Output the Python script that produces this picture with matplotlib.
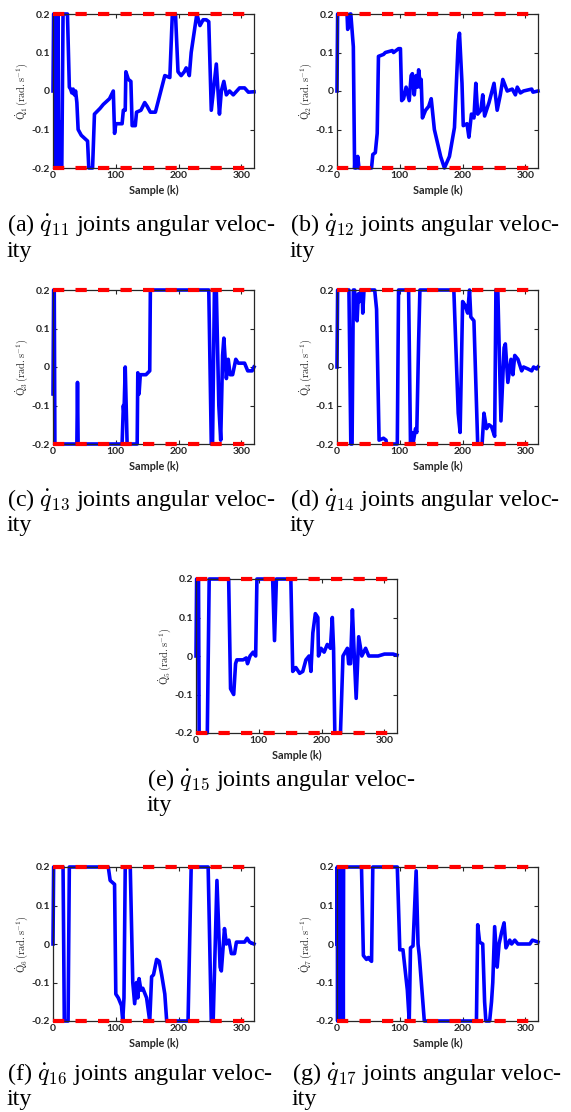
import numpy as np
import matplotlib.pyplot as plt

plt.rcParams['mathtext.fontset'] = 'cm'

# sample index / angular velocity breakpoints
k11 = [0, 1, 3, 4, 6, 7, 8, 9, 11, 12, 13, 14, 16, 23, 26, 28, 30, 32, 34, 36, 38, 40, 45, 55, 57, 63, 66, 75, 80, 90,
       96, 98, 100, 110, 112, 115, 116, 120, 124, 126, 131, 133, 140, 146, 150, 155, 163, 178, 186, 190, 195, 199, 204,
       209, 212, 215, 217, 220, 229, 234, 239, 244, 248, 252, 260, 265, 268, 272, 276, 281, 287, 297, 305, 311, 320]
v11 = [0, 0.2, 0.2, -0.2, -0.2, 0.2, 0.2, -0.2, -0.2, -0.08, -0.2, -0.2, 0.2, 0.2, 0.01, 0.005, -0.005, 0.005, -0.01, 0.0,
       -0.03, -0.1, -0.115, -0.13, -0.2, -0.2, -0.06, -0.045, -0.035, -0.02, 0.0, -0.11, -0.085, -0.085, -0.05, -0.05,
       0.05, 0.03, 0.025, -0.09, -0.09, -0.055, -0.05, -0.03, -0.04, -0.055, -0.055, 0.04, 0.035, 0.2, 0.2, 0.05, 0.04,
       0.05, 0.06, 0.05, 0.04, 0.1, 0.2, 0.17, 0.185, 0.185, 0.18, -0.05, 0.07, -0.06, 0.0, 0.025, -0.01, 0.0, -0.01,
       0.008, 0.008, -0.003, -0.002]

k12 = [0, 1, 16, 17, 19, 21, 22, 26, 28, 29, 31, 33, 35, 55, 57, 61, 64, 66, 74, 77, 88, 90, 98, 101, 103, 106, 110, 115,
       118, 120, 123, 126, 128, 130, 133, 134, 136, 141, 146, 150, 155, 165, 171, 179, 187, 193, 195, 199, 201, 207, 210,
       214, 218, 221, 224, 229, 232, 235, 242, 250, 255, 260, 264, 271, 279, 284, 287, 292, 297, 310, 312, 320]
v12 = [0, 0.2, 0.2, 0.16, 0.17, 0.2, 0.2, 0.115, -0.2, -0.175, -0.2, -0.17, -0.2, -0.2, -0.165, -0.16, -0.11, 0.09, 0.095,
       0.1, 0.105, 0.1, 0.11, 0.11, -0.025, -0.02, 0.01, -0.025, 0.04, 0.045, -0.01, 0.04, 0.01, 0.055, 0.01, 0.03, -0.07,
       -0.05, -0.04, -0.02, -0.1, -0.17, -0.2, -0.17, -0.095, 0.13, 0.15, 0.02, -0.09, -0.085, -0.12, -0.06, -0.07, 0.02,
       -0.06, -0.05, -0.01, -0.065, -0.03, 0.02, -0.05, -0.01, 0.03, 0.0, 0.005, -0.01, 0.01, -0.005, 0.0, 0.005,
       -0.003, 0.0]

k13 = [0, 1, 2, 3, 38, 39, 40, 110, 112, 113, 115, 118, 134, 135, 137, 139, 148, 154, 155, 248, 252, 254, 257, 260, 264,
       267, 270, 272, 276, 279, 282, 286, 291, 295, 305, 310, 317, 320]
v13 = [-0.07, 0.2, 0.2, -0.2, -0.2, -0.04, -0.2, -0.2, -0.1, -0.12, 0.0, -0.2, -0.2, -0.015, -0.07, -0.02, -0.02, -0.01,
       0.2, 0.2, -0.2, -0.2, 0.2, 0.2, -0.1, -0.19, 0.03, 0.075, -0.03, 0.02, -0.02, -0.02, 0.02, 0.01, 0.01, -0.01,
       -0.01, 0.0]

k14 = [0, 1, 19, 22, 24, 26, 28, 30, 32, 34, 36, 38, 40, 41, 43, 60, 63, 67, 74, 78, 79, 96, 98, 114, 117, 119, 121, 125,
       127, 130, 132, 186, 193, 196, 200, 204, 208, 211, 213, 218, 224, 231, 234, 238, 242, 246, 251, 253, 256, 261, 266,
       268, 272, 277, 280, 283, 288, 294, 297, 304, 310, 313, 318, 320]
v14 = [0, 0.2, 0.2, -0.2, -0.2, 0.2, 0.2, 0.13, 0.12, 0.19, 0.17, 0.2, 0.2, 0.14, 0.2, 0.2, 0.15, -0.19, -0.185, -0.19,
       -0.2, -0.2, 0.2, 0.2, -0.2, -0.17, -0.2, -0.16, -0.17, 0.07, 0.2, 0.2, -0.12, -0.17, 0.17, 0.16, 0.14, 0.2, 0.13,
       0.12, -0.2, -0.2, -0.12, -0.16, -0.15, -0.155, -0.18, 0.2, 0.2, -0.14, 0.05, 0.06, -0.04, 0.02, -0.02, 0.03, 0.02,
       -0.01, 0.0, -0.005, -0.01, 0.0, -0.005, 0.0]

k15 = [0, 1, 4, 5, 18, 21, 52, 55, 60, 63, 65, 75, 80, 82, 86, 91, 95, 97, 122, 125, 128, 151, 154, 159, 165, 170, 175,
       180, 183, 186, 190, 194, 195, 199, 204, 209, 214, 217, 219, 221, 230, 234, 241, 243, 246, 249, 252, 255, 259, 264,
       270, 275, 290, 300, 314, 320]
v15 = [0, 0.2, 0.2, -0.2, -0.2, 0.2, 0.2, -0.085, -0.1, -0.02, -0.01, -0.01, -0.005, -0.02, 0.0, 0.01, 0.0, 0.2, 0.2,
       0.04, 0.2, 0.2, -0.04, -0.03, -0.045, -0.04, -0.01, 0.0, -0.04, 0.06, 0.11, 0.1, 0.0, 0.02, 0.01, 0.03, 0.02, 0.1,
       0.02, -0.2, -0.2, 0.0, 0.02, -0.02, -0.02, 0.12, 0.0, -0.11, 0.05, 0.0, 0.02, 0.0, 0.0, 0.005, 0.005, 0.002]

k16 = [0, 1, 16, 18, 24, 26, 88, 91, 98, 100, 104, 109, 111, 113, 115, 123, 127, 130, 133, 135, 137, 140, 143, 149, 154,
       157, 160, 165, 169, 173, 178, 181, 215, 220, 247, 252, 255, 261, 266, 268, 273, 276, 280, 284, 289, 292, 305, 309,
       313, 320]
v16 = [0, 0.2, 0.2, -0.2, -0.2, 0.2, 0.2, 0.165, 0.155, -0.13, -0.14, -0.16, -0.2, -0.14, 0.2, 0.2, -0.1, -0.155, -0.1,
       -0.14, -0.09, -0.12, -0.115, -0.14, -0.2, -0.085, -0.08, -0.04, -0.045, -0.08, -0.13, -0.2, -0.2, 0.2, 0.2, -0.2,
       -0.2, 0.165, -0.06, -0.07, 0.04, 0.0, 0.01, -0.025, -0.025, 0.005, 0.005, 0.015, 0.005, 0.0]

k17 = [0, 0.5, 1, 1.5, 2, 2.5, 3, 3.5, 4, 4.5, 5, 5.5, 6, 6.5, 7, 7.5, 8, 8.5, 9, 9.5, 10, 10.5, 11, 39, 42, 47, 50, 52, 55,
       57, 96, 100, 105, 112, 115, 117, 121, 126, 129, 131, 139, 222, 224, 227, 232, 235, 237, 243, 246, 248, 251, 255,
       258, 262, 266, 269, 275, 278, 283, 288, 307, 311, 315, 320]
v17 = [0, 0.2, -0.2, 0.2, -0.2, 0.2, -0.2, 0.2, -0.2, 0.2, -0.2, 0.2, -0.2, 0.2, -0.2, 0.2, -0.2, 0.2, -0.2, 0.2, -0.2,
       0.2, 0.2, 0.2, -0.03, -0.04, -0.035, -0.04, -0.045, 0.2, 0.2, -0.015, -0.015, -0.12, -0.2, -0.01, -0.005, 0.19,
       0.0, -0.03, -0.2, -0.2, 0.05, 0.005, 0.0, -0.15, -0.2, -0.2, -0.15, -0.1, 0.045, -0.06, 0.0, 0.03, 0.055, -0.01,
       0.01, 0.0, 0.01, 0.0, 0.0, 0.01, 0.008, 0.005]

v_lim = 0.2
x_ticks = [0, 100, 200, 300]
y_ticks = [-0.2, -0.1, 0, 0.1, 0.2]
y_tick_labels = ['-0.2', '-0.1', '0', '0.1', '0.2']

panels = [
    # k, v, joint, sub, tag, left px, top px, caption x px, caption y px
    (k11, v11, '1', '11', 'a', 53, 14, 7, 225),
    (k12, v12, '2', '12', 'b', 337, 14, 290, 225),
    (k13, v13, '3', '13', 'c', 53, 290, 7, 500),
    (k14, v14, '4', '14', 'd', 337, 290, 290, 500),
    (k15, v15, '5', '15', 'e', 196, 579, 147, 780),
    (k16, v16, '6', '16', 'f', 53, 867, 7, 1074),
    (k17, v17, '7', '17', 'g', 337, 867, 292, 1074),
]

W, H = 571, 1112
fig = plt.figure(figsize=(W / 100, H / 100), dpi=100)

for k, v, j, sub, tag, lx, ty, cx, cy in panels:
    ax = fig.add_axes([lx / W, 1 - (ty + 154) / H, 201 / W, 154 / H])
    ax.plot(k, v, color='#0000ff', lw=2.6, zorder=2, clip_on=False)
    for lim in (v_lim, -v_lim):
        ax.axhline(lim, color='#ff0000', lw=3.0, dashes=(2.7, 2.7), zorder=3, clip_on=False)
    ax.set_xlim(0, 320)
    ax.set_ylim(-0.2, 0.2)
    ax.set_xticks(x_ticks)
    ax.set_yticks(y_ticks)
    ax.set_yticklabels(y_tick_labels)
    ax.tick_params(direction='in', top=True, right=True, length=3, width=0.8,
                   labelsize=7.5, pad=2, colors='#262626')
    for lab in ax.get_xticklabels() + ax.get_yticklabels():
        lab.set_fontfamily('Lato')
        lab.set_fontweight('bold')
        lab.set_color('#262626')
    for s in ax.spines.values():
        s.set_color('#262626')
        s.set_linewidth(0.9)
    ax.set_xlabel('Sample (k)', fontfamily='Lato', fontweight='bold', fontsize=7.8, labelpad=3.5, color='#262626')
    ax.set_ylabel(r'$\dot{\mathrm{Q}}_{%s}\,(\mathrm{rad.s}^{-1})$' % j, fontsize=7.5, labelpad=1, color='#262626')

    fig.text(cx / W, 1 - cy / H, r'(%s) $\dot{q}_{%s}$ joints angular veloc-' % (tag, sub),
             fontfamily='Liberation Serif', fontsize=17.4, ha='left', va='center')
    fig.text(cx / W, 1 - (cy + 26) / H, 'ity', fontfamily='Liberation Serif', fontsize=17.4,
             ha='left', va='center')

plt.savefig('out.png', dpi=100)
